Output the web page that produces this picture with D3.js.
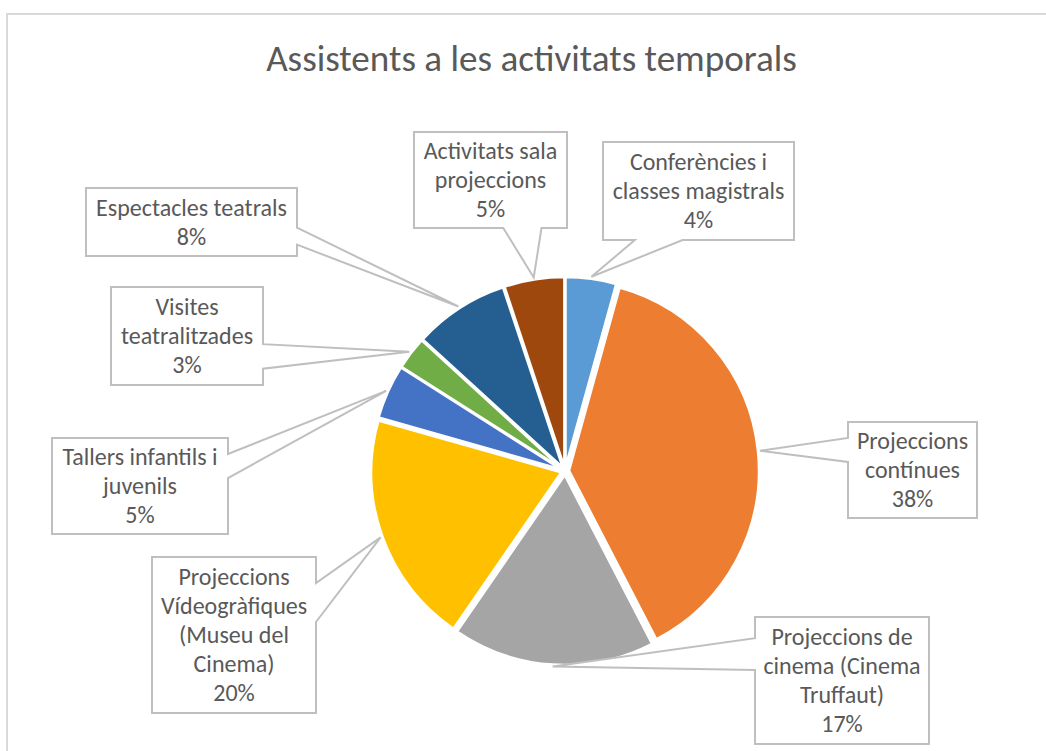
<!DOCTYPE html>
<html><head><meta charset="utf-8">
<script src="https://cdn.jsdelivr.net/npm/d3@7"></script>
<style>html,body{margin:0;padding:0;background:#fff;overflow:hidden}</style>
</head><body>
<svg id="chart" width="1046" height="751"></svg>
<script>
// ---- data ----
const title = "Assistents a les activitats temporals";
const categories = [
  "Conferències i classes magistrals",
  "Projeccions contínues",
  "Projeccions de cinema (Cinema Truffaut)",
  "Projeccions Vídeogràfiques (Museu del Cinema)",
  "Tallers infantils i juvenils",
  "Visites teatralitzades",
  "Espectacles teatrals",
  "Activitats sala projeccions"
];
const values = [4.3, 38.1, 17.2, 19.8, 4.6, 2.8, 8.1, 5.1];
const colors = ["#5B9BD5","#ED7D31","#A5A5A5","#FFC000","#4472C4","#70AD47","#255E91","#9E480E"];

// ---- layout ----
const labelLines = [
  ["Conferències i","classes magistrals"],
  ["Projeccions","contínues"],
  ["Projeccions de","cinema (Cinema","Truffaut)"],
  ["Projeccions","Vídeogràfiques","(Museu del","Cinema)"],
  ["Tallers infantils i","juvenils"],
  ["Visites","teatralitzades"],
  ["Espectacles teatrals"],
  ["Activitats sala","projeccions"]
];
const boxes = [[603,142,191,98],[848,422,129,96],[755,617,174,127],[152,557,164,156],
               [52,438,176,96],[111,287,152,98],[86,188,211,68],[414,132,153,96]];
const cx = 565, cy = 471, R = 190, explode = 4;
const FONT = "Carlito, Calibri, Lato, sans-serif";
const textColor = "#595959", lineColor = "#BFBFBF";
const lineH = 29;

const svg = d3.select("#chart");
svg.append("rect").attr("x",7).attr("y",14).attr("width",1200).attr("height",900)
  .attr("fill","#fff").attr("stroke","#D9D9D9").attr("stroke-width",2);

// font fitting
function fitSize(str, target){
  const t = svg.append("text").attr("font-family",FONT).attr("font-size",100).text(str);
  const w = t.node().getComputedTextLength(); t.remove();
  return 100*target/w;
}
const titleSize = fitSize(title, 531);
const labelSize = fitSize("Espectacles teatrals", 191);

svg.append("text").attr("x",531.5).attr("y",71).attr("text-anchor","middle")
  .attr("font-family",FONT).attr("font-size",titleSize).attr("fill",textColor).text(title);

const total = d3.sum(values);
const data = categories.map((c,i)=>({cat:c, value:values[i], color:colors[i], lines:labelLines[i], box:boxes[i]}));
const pie = d3.pie().sort(null).value(d=>d.value).startAngle(0).endAngle(2*Math.PI);
const arcs = pie(data);
const arc = d3.arc().innerRadius(0).outerRadius(R);
const pct = d3.format(".0%");

const g = svg.append("g").attr("transform",`translate(${cx},${cy})`);
g.selectAll("path").data(arcs).join("path")
  .attr("d",arc)
  .attr("fill",d=>d.data.color)
  .attr("stroke","#fff").attr("stroke-width",2.5)
  .attr("transform",d=>{const a=(d.startAngle+d.endAngle)/2;return `translate(${explode*Math.sin(a)},${-explode*Math.cos(a)})`;});

function calloutPath(x,y,w,h,tx,ty){
  const hc=x+w/2, vc=y+h/2, dx=tx-hc, dy=ty-vc;
  const dq = dx*h/w, dz = Math.abs(dy)-Math.abs(dq);
  const xg1 = dx>0?7:2, xg2 = dx>0?10:5, yg1 = dy>0?7:2, yg2 = dy>0?10:5;
  const x1=x+w*xg1/12, x2=x+w*xg2/12, y1=y+h*yg1/12, y2=y+h*yg2/12;
  let p;
  if (dz>0){
    if (dy<0) p=[[x,y],[x1,y],[tx,ty],[x2,y],[x+w,y],[x+w,y+h],[x,y+h]];
    else p=[[x,y],[x+w,y],[x+w,y+h],[x2,y+h],[tx,ty],[x1,y+h],[x,y+h]];
  } else {
    if (dx<0) p=[[x,y],[x+w,y],[x+w,y+h],[x,y+h],[x,y2],[tx,ty],[x,y1]];
    else p=[[x,y],[x+w,y],[x+w,y1],[tx,ty],[x+w,y2],[x+w,y+h],[x,y+h]];
  }
  return "M"+p.map(q=>q.join(",")).join("L")+"Z";
}

const lab = svg.append("g");
arcs.forEach(d=>{
  const a=(d.startAngle+d.endAngle)/2, r=R+explode+2;
  const tx=cx+r*Math.sin(a), ty=cy-r*Math.cos(a);
  const [x,y,w,h]=d.data.box;
  lab.append("path").attr("d",calloutPath(x,y,w,h,tx,ty))
    .attr("fill","#fff").attr("stroke",lineColor).attr("stroke-width",2).attr("stroke-linejoin","miter");
  const lines = d.data.lines.concat([pct(d.data.value/total)]);
  const pad = (h - lines.length*lineH)/2;
  const t = lab.append("text").attr("text-anchor","middle").attr("font-family",FONT)
    .attr("font-size",labelSize).attr("fill",textColor);
  lines.forEach((s,i)=>{
    t.append("tspan").attr("x",x+w/2).attr("y",y+pad+lineH*0.78+i*lineH).text(s);
  });
});
</script>
</body></html>
